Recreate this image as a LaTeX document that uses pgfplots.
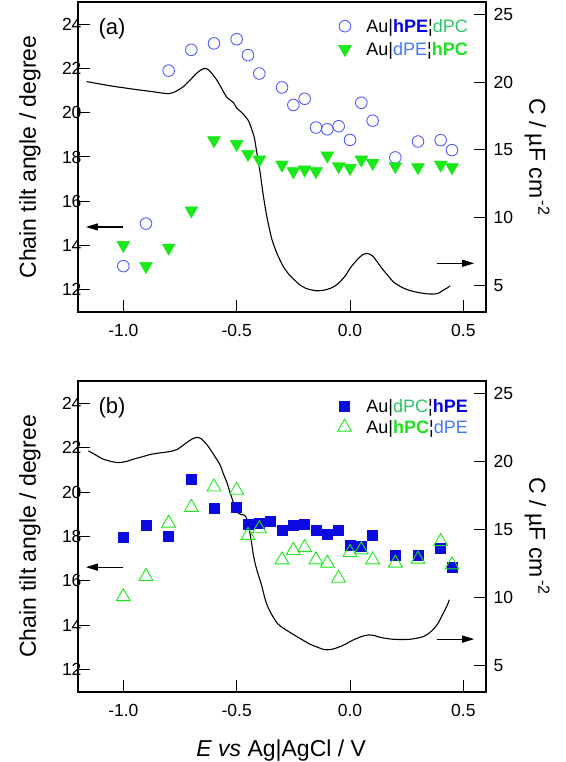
\documentclass[border=0pt]{standalone}
\usepackage{fontspec}
\setmainfont{Liberation Sans}
\usepackage{pgfplots}
\pgfplotsset{compat=1.18}
\usetikzlibrary{arrows.meta}

\definecolor{circblue}{RGB}{80,90,255}
\definecolor{trigreen}{RGB}{25,232,25}
\definecolor{sqblue}{RGB}{10,10,225}
\definecolor{hpeblue}{RGB}{0,0,230}
\definecolor{dpcgreen}{RGB}{40,200,100}
\definecolor{dpeblue}{RGB}{70,120,255}
\definecolor{hpcgreen}{RGB}{30,225,30}

\newcommand{\tickfont}{\fontsize{17.5}{20}\selectfont}
\newcommand{\labfont}{\fontsize{23}{27}\selectfont}
\newcommand{\legfont}{\fontsize{18}{21}\selectfont}

\tikzset{sidearrow/.style={line width=1.1pt, -{Triangle[length=12pt,width=7pt]}}}

\pgfplotsset{
  panel/.style={
    scale only axis, width=408pt, height=310pt,
    xmin=-1.2, xmax=0.6,
    tick align=inside, major tick length=12pt,
    every tick/.style={black, line width=1pt},
    axis line style={line width=1.2pt},
    tick label style={font=\tickfont},
    label style={font=\labfont},
    /pgf/number format/assume math mode=true,
  },
  leftax/.style={panel,
    ymin=11, ymax=25, ytick={12,14,...,24},
    xtick={-1,-0.5,0,0.5}, xtick pos=left, ytick pos=left,
    xticklabel style={yshift=-9pt, /pgf/number format/.cd, fixed, fixed zerofill, precision=1},
    yticklabel style={xshift=7pt},
    ylabel={Chain tilt angle / degree},
    ylabel style={at={(axis description cs:-0.118,0.5)}, anchor=center},
    legend cell align=left,
    legend style={draw=none, fill=none, font=\legfont, inner sep=0pt,
      column sep=15pt,
      nodes={inner sep=0pt, text height=15pt, text depth=2pt}},
  },
  rightax/.style={panel,
    axis x line=none, axis y line*=right,
    ymin=3.07, ymax=25.9, ytick={5,10,...,25},
    yticklabel style={xshift=4pt},
    ylabel={C / µF cm\textsuperscript{\,-2}},
    ylabel style={at={(axis description cs:1.125,0.5)}, anchor=center, rotate=180},
  },
  onemark/.style={legend image code/.code={\draw[##1] plot coordinates {(0pt,0pt)};}},
  curve/.style={black, line width=1.1pt, smooth, tension=0.4, no marks},
}

\begin{document}
\begin{tikzpicture}
\useasboundingbox (0,0) rectangle (565pt,762pt);

% ---------------- (a) capacitance ----------------
\begin{axis}[rightax, at={(78pt,450pt)}, anchor=south west]
\addplot[curve] coordinates {
(-1.162,20.04) (-1.10,19.85) (-1.04,19.68) (-0.985,19.55) (-0.93,19.42)
(-0.882,19.32) (-0.84,19.22) (-0.80,19.15) (-0.77,19.30) (-0.735,19.67)
(-0.70,20.25) (-0.67,20.75) (-0.645,21.0) (-0.628,20.95) (-0.61,20.65)
(-0.588,20.16) (-0.565,19.5) (-0.544,18.9) (-0.515,18.5) (-0.50,18.1)
(-0.471,17.65) (-0.448,17.15) (-0.434,16.55) (-0.422,15.9) (-0.412,14.9)
(-0.404,14.1) (-0.397,13.4) (-0.388,12.3) (-0.382,11.6) (-0.368,10.2)
(-0.346,8.5) (-0.325,7.5) (-0.309,6.9) (-0.29,6.3) (-0.265,5.75)
(-0.24,5.35) (-0.22,5.05) (-0.19,4.78) (-0.147,4.63) (-0.115,4.68)
(-0.088,4.8) (-0.065,5.0) (-0.044,5.29) (-0.02,5.75) (0.0,6.28)
(0.02,6.7) (0.037,7.01) (0.055,7.28) (0.074,7.38) (0.09,7.3)
(0.103,7.14) (0.125,6.65) (0.147,6.15) (0.17,5.7) (0.191,5.29)
(0.22,4.97) (0.25,4.73) (0.28,4.58) (0.309,4.48) (0.34,4.41)
(0.368,4.39) (0.39,4.45) (0.412,4.68) (0.43,4.85) (0.441,5.0)
};
\end{axis}

% ---------------- (a) tilt angles ----------------
\begin{axis}[leftax, at={(78pt,450pt)}, anchor=south west,
  legend style={at={(axis description cs:0.956,0.95)}, anchor=north east, row sep=6pt}]
\addplot[only marks, onemark, mark=o, mark size=5.8pt, circblue, line width=0.9pt]
  coordinates {
(-1.0,13.07) (-0.9,14.99) (-0.8,21.90) (-0.7,22.84) (-0.6,23.13)
(-0.5,23.32) (-0.45,22.60) (-0.4,21.77) (-0.3,21.14) (-0.25,20.35)
(-0.2,20.63) (-0.15,19.33) (-0.1,19.25) (-0.05,19.39) (0.0,18.77)
(0.05,20.45) (0.1,19.64) (0.2,17.98) (0.3,18.70) (0.4,18.76) (0.45,18.31)
};
\addlegendentry{Au|\textcolor{hpeblue}{\bfseries hPE}¦\textcolor{dpcgreen}{dPC}}
\addplot[only marks, onemark, mark=triangle*, mark size=7.5pt,
  mark options={rotate=180}, draw=trigreen, fill=trigreen]
  coordinates {
(-1.0,14.02) (-0.9,13.07) (-0.8,13.90) (-0.7,15.58) (-0.6,18.75)
(-0.5,18.58) (-0.45,18.13) (-0.4,17.88) (-0.3,17.65) (-0.25,17.35)
(-0.2,17.43) (-0.15,17.35) (-0.1,18.06) (-0.05,17.58) (0.0,17.50)
(0.05,17.88) (0.1,17.73) (0.2,17.58) (0.3,17.53) (0.4,17.65) (0.45,17.53)
};
\addlegendentry{Au|\textcolor{dpeblue}{dPE}¦\textcolor{hpcgreen}{\bfseries hPC}}
\node[font=\fontsize{22}{26}\selectfont] at (axis cs:-1.05,23.8) {(a)};
\draw[sidearrow] (axis cs:-1.0,14.84) -- (axis cs:-1.165,14.84);
\draw[sidearrow] (axis cs:0.382,13.2) -- (axis cs:0.548,13.2);
\end{axis}

% ---------------- (b) capacitance ----------------
\begin{axis}[rightax, at={(78pt,70pt)}, anchor=south west, height=311pt]
\addplot[curve] coordinates {
(-1.154,20.77) (-1.12,20.45) (-1.088,20.16) (-1.05,19.98) (-1.022,19.91)
(-0.99,19.98) (-0.956,20.16) (-0.92,20.32) (-0.882,20.5) (-0.84,20.62)
(-0.794,20.72) (-0.76,20.9) (-0.735,21.2) (-0.71,21.5) (-0.69,21.7)
(-0.676,21.76) (-0.66,21.7) (-0.647,21.52) (-0.63,21.2) (-0.61,20.72)
(-0.59,20.2) (-0.573,19.75) (-0.559,19.1) (-0.544,18.5) (-0.529,17.7)
(-0.515,17.0) (-0.505,16.6) (-0.493,16.2) (-0.48,16.1) (-0.465,16.05)
(-0.456,15.8) (-0.448,15.3) (-0.441,14.7) (-0.433,13.9) (-0.426,13.1)
(-0.417,12.4) (-0.405,11.7) (-0.39,10.9) (-0.378,10.1) (-0.368,9.55)
(-0.352,8.95) (-0.338,8.55) (-0.32,8.1) (-0.294,7.75) (-0.265,7.45)
(-0.235,7.14) (-0.205,6.85) (-0.176,6.57) (-0.147,6.38) (-0.118,6.2)
(-0.1,6.17) (-0.081,6.2) (-0.06,6.3) (-0.044,6.4) (-0.02,6.58)
(0.0,6.77) (0.025,6.97) (0.051,7.14) (0.07,7.23) (0.088,7.26)
(0.11,7.2) (0.132,7.09) (0.16,7.0) (0.191,6.94) (0.23,6.92)
(0.265,6.94) (0.295,7.02) (0.324,7.14) (0.348,7.38) (0.368,7.68)
(0.388,8.1) (0.404,8.61) (0.416,9.0) (0.426,9.35) (0.433,9.6) (0.438,9.84)
};
\end{axis}

% ---------------- (b) tilt angles ----------------
\begin{axis}[leftax, at={(78pt,70pt)}, anchor=south west, height=311pt,
  xlabel={\textit{E vs} Ag|AgCl / V},
  xlabel style={at={(axis description cs:0.498,-0.19)}, anchor=center},
  legend style={at={(axis description cs:0.956,0.947)}, anchor=north east, row sep=4pt}]
\addplot[only marks, onemark, mark=square*, mark size=5pt, draw=sqblue, fill=sqblue]
  coordinates {
(-1.0,17.97) (-0.9,18.50) (-0.8,18.02) (-0.7,20.57) (-0.6,19.28)
(-0.5,19.31) (-0.45,18.54) (-0.4,18.62) (-0.35,18.69) (-0.3,18.29)
(-0.25,18.51) (-0.2,18.54) (-0.15,18.27) (-0.1,18.10) (-0.05,18.27)
(0.0,17.61) (0.05,17.56) (0.1,18.08) (0.2,17.14) (0.3,17.14)
(0.4,17.49) (0.45,16.62)
};
\addlegendentry{Au|\textcolor{dpcgreen}{dPC}¦\textcolor{hpeblue}{\bfseries hPE}}
\addplot[only marks, onemark, mark=triangle, mark size=8pt, trigreen, line width=0.9pt]
  coordinates {
(-1.0,15.29) (-0.9,16.20) (-0.8,18.60) (-0.7,19.31) (-0.6,20.23)
(-0.5,20.08) (-0.45,18.05) (-0.4,18.35) (-0.3,16.95) (-0.25,17.37)
(-0.2,17.50) (-0.15,16.95) (-0.1,16.80) (-0.05,16.12) (0.0,17.28)
(0.05,17.40) (0.1,16.95) (0.2,16.80) (0.3,16.98) (0.4,17.77) (0.45,16.72)
};
\addlegendentry{Au|\textcolor{hpcgreen}{\bfseries hPC}¦\textcolor{dpeblue}{dPE}}
\node[font=\fontsize{22}{26}\selectfont] at (axis cs:-1.05,23.8) {(b)};
\draw[sidearrow] (axis cs:-1.0,16.62) -- (axis cs:-1.165,16.62);
\draw[sidearrow] (axis cs:0.382,13.38) -- (axis cs:0.548,13.38);
\end{axis}
\end{tikzpicture}
\end{document}
